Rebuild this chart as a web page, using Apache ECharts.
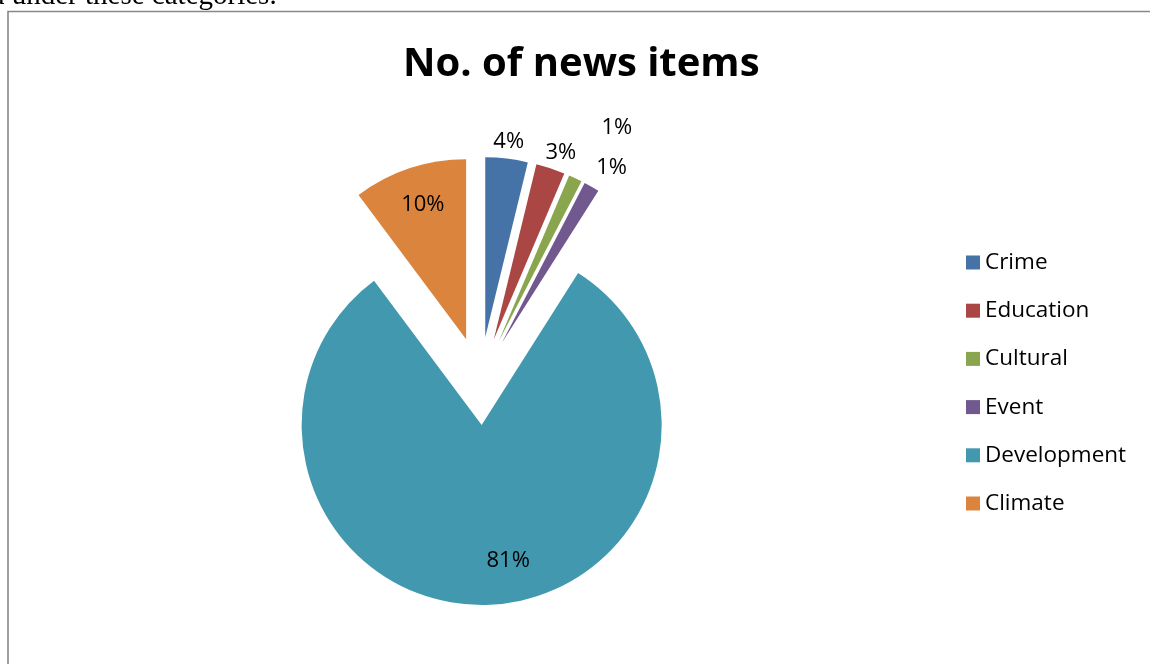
<!DOCTYPE html>
<html>
<head>
<meta charset="utf-8">
<script src="https://cdn.jsdelivr.net/npm/echarts@6/dist/echarts.min.js"></script>
<style>
  html, body { margin: 0; padding: 0; background: #ffffff; }
  #chart { width: 1150px; height: 664px; }
</style>
</head>
<body>
<div id="chart"></div>
<script>
const categories = ['Crime', 'Education', 'Cultural', 'Event', 'Development', 'Climate'];
const values = [3.8, 2.6, 1.2, 1.4, 80.8, 10.2];
const colors = ['#4572A7', '#AA4643', '#89A54E', '#71588F', '#4198AF', '#DB843D'];
const titleText = 'No. of news items';
const docText = 'd under these categories.';

const labelFont = '"Open Sans", "Noto Sans", sans-serif';

// per-slice label styling: where the library puts the label, plus a small nudge
const labelStyles = [
  { position: 'outside', lineLen: 17, nudge: [0, 0] },
  { position: 'outside', lineLen: 17, nudge: [5, 0] },
  { position: 'outside', lineLen: 60, nudge: [16, 4] },
  { position: 'outside', lineLen: 24, nudge: [8, 2] },
  { position: 'inside', nudge: [23, 43] },
  { position: 'inside', nudge: [-14, -46] }
];

const data = categories.map((name, i) => {
  const ls = labelStyles[i];
  const item = {
    name: name,
    value: values[i],
    selected: true,
    itemStyle: { color: colors[i] },
    label: { position: ls.position }
  };
  if (ls.lineLen) item.labelLine = { show: false, length: ls.lineLen, length2: 0 };
  return item;
});

const chart = echarts.init(document.getElementById('chart'), null, { renderer: 'canvas' });
chart.setOption({
  animation: false,
  backgroundColor: '#ffffff',
  graphic: [
    {
      type: 'rect',
      z: -10,
      shape: { x: 8, y: 11.5, width: 1200, height: 700 },
      style: { fill: 'none', stroke: '#888888', lineWidth: 1.6 }
    },
    {
      type: 'text',
      x: -10,
      y: -4,
      style: {
        text: docText,
        font: '29px "Liberation Serif", serif',
        fill: '#000000',
        verticalAlign: 'middle'
      }
    }
  ],
  title: {
    text: titleText,
    left: 403,
    top: 43,
    padding: [0, 0, 0, 0],
    textStyle: {
      fontFamily: labelFont,
      fontSize: 40,
      fontWeight: 'bold',
      color: '#000000',
      lineHeight: 44
    }
  },
  legend: {
    orient: 'vertical',
    left: 966,
    top: 251,
    padding: 0,
    itemWidth: 14,
    itemHeight: 14,
    itemGap: 25.2,
    icon: 'rect',
    selectedMode: false,
    data: categories,
    textStyle: {
      fontFamily: labelFont,
      fontSize: 22.5,
      lineHeight: 22,
      color: '#000000'
    }
  },
  series: [{
    type: 'pie',
    center: [480, 381],
    radius: [0, 180],
    startAngle: 90,
    clockwise: true,
    selectedMode: 'multiple',
    selectedOffset: 44,
    avoidLabelOverlap: false,
    silent: true,
    itemStyle: { borderWidth: 0 },
    label: {
      show: true,
      color: '#000000',
      fontFamily: labelFont,
      fontSize: 22,
      distanceToLabelLine: 0,
      formatter: function (p) { return Math.round(p.percent) + '%'; }
    },
    labelLine: { show: false, length: 17, length2: 0 },
    labelLayout: function (p) {
      const ls = labelStyles[p.dataIndex];
      const centerShift = ls.position === 'outside' ? -p.labelRect.width / 2 : 0;
      return { dx: centerShift + ls.nudge[0], dy: ls.nudge[1] };
    },
    emphasis: { disabled: true },
    data: data
  }]
});
</script>
</body>
</html>
